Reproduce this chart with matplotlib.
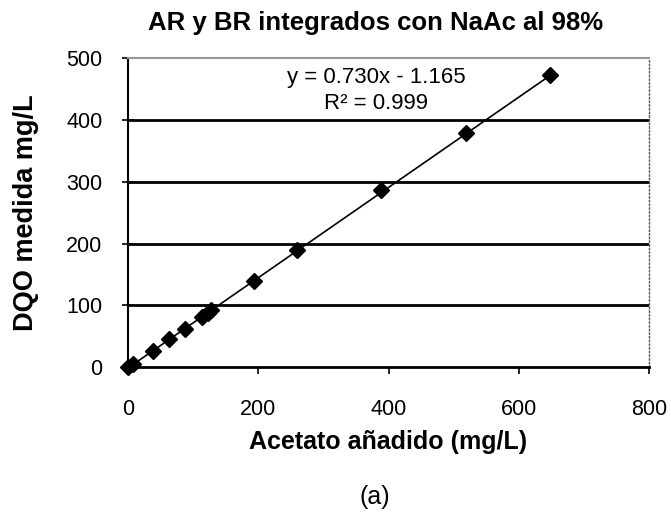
import matplotlib.pyplot as plt
import numpy as np

plt.rcParams['font.family'] = ['Liberation Sans', 'DejaVu Sans']

# acetato añadido vs DQO medida
acetato = [0, 8, 38, 63, 88, 114, 122, 128, 193, 259, 389, 519, 648]
dqo = [0, 5, 27, 45, 62, 82, 88, 93, 140, 189, 286, 379, 473]

# ajuste lineal
pendiente = 0.730
intercepto = -1.165
r2 = 0.999

x_ticks = [0, 200, 400, 600, 800]
y_ticks = [0, 100, 200, 300, 400, 500]

fig = plt.figure(figsize=(6.71, 5.15), dpi=100)
ax = fig.add_axes([0.191, 0.287, 0.776, 0.600])

ax.set_xlim(0, 800)
ax.set_ylim(0, 500)

# líneas de división horizontales
for yv in y_ticks[1:-1]:
    ax.axhline(yv, color='black', lw=2, zorder=1)

xs = np.array([0, max(acetato)])
ax.plot(xs, pendiente * xs + intercepto, color='black', lw=1.2, zorder=2)
ax.plot(acetato, dqo, linestyle='none', marker='D', markersize=8.5,
        color='black', zorder=3, clip_on=False)

ax.spines['top'].set_color('#999999')
ax.spines['top'].set_linewidth(1.5)
ax.spines['right'].set_linestyle(':')
ax.spines['right'].set_linewidth(1)
ax.spines['right'].set_color('#555555')
ax.spines['left'].set_linewidth(1.5)
ax.spines['bottom'].set_linewidth(2)

ax.set_xticks(x_ticks)
ax.set_yticks(y_ticks)
ax.tick_params(axis='x', direction='out', length=5, width=1.2, pad=18,
               labelsize=15.5)
ax.tick_params(axis='y', direction='inout', length=9, width=1.2, pad=14,
               labelsize=15.5)

ax.set_xlabel('Acetato añadido (mg/L)', fontsize=18, fontweight='bold',
              labelpad=7)
ax.set_ylabel('DQO medida mg/L', fontsize=19.5, fontweight='bold')
ax.yaxis.set_label_coords(-0.172, 0.5)

ax.text(0.476, 0.939, f'y = {pendiente:.3f}x - {abs(intercepto):.3f}',
        transform=ax.transAxes, ha='center', va='center', fontsize=16)
ax.text(0.476, 0.854, f'R² = {r2:.3f}', transform=ax.transAxes,
        ha='center', va='center', fontsize=16)

fig.text(0.560, 0.955, 'AR y BR integrados con NaAc al 98%', ha='center',
         va='center', fontsize=18.5, fontweight='bold')
fig.text(0.558, 0.035, '(a)', ha='center', va='center', fontsize=18)

fig.savefig('out.png', dpi=100)
